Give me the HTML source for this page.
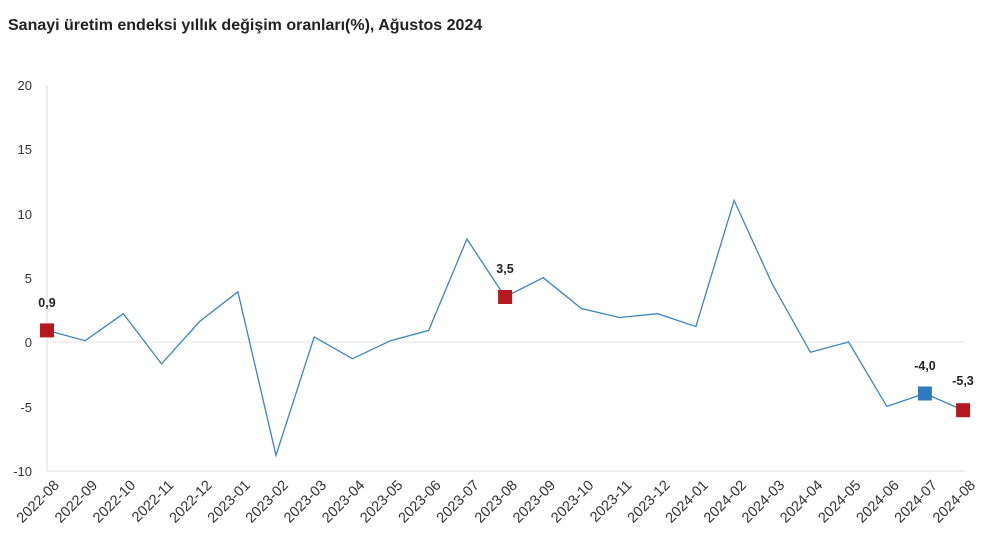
<!DOCTYPE html>
<html><head><meta charset="utf-8"><style>
body{margin:0;background:#fff;width:1002px;height:551px;overflow:hidden;font-family:"Liberation Sans",sans-serif}
</style></head><body>
<svg width="1002" height="551" xmlns="http://www.w3.org/2000/svg" font-family="Liberation Sans, sans-serif">
<text x="8" y="30" font-size="16" font-weight="bold" fill="#222">Sanayi üretim endeksi yıllık değişim oranları(%), Ağustos 2024</text>
<g font-size="13" fill="#333" text-anchor="end">
<text x="32" y="90">20</text><text x="32" y="154">15</text><text x="32" y="219">10</text>
<text x="32" y="283">5</text><text x="32" y="347">0</text><text x="32" y="412">-5</text><text x="32" y="476">-10</text>
</g>
<line x1="47" y1="85" x2="47" y2="471" stroke="#ddd"/>
<line x1="47" y1="471" x2="965" y2="471" stroke="#ddd"/>
<line x1="47" y1="342" x2="965" y2="342" stroke="#e6e6e6"/>
<polyline fill="none" stroke="#3a86c0" stroke-width="1.3" points="47,330.4 85.2,340.7 123.3,313.7 161.5,363.9 199.7,321.4 237.9,291.8 276,455.3 314.2,336.9 352.4,358.7 390.5,340.7 428.7,330.4 466.9,239.0 505.1,297.0 543.2,277.7 581.4,308.5 619.6,317.5 657.7,313.7 695.9,326.6 734.1,200.4 772.3,284.1 810.4,352.3 848.6,342 886.8,406.4 924.9,393.5 963.1,410.2"/>
<rect x="40" y="323.4" width="14" height="14" fill="#b5181f"/>
<rect x="498.1" y="290" width="14" height="14" fill="#b5181f"/>
<rect x="917.9" y="386.5" width="14" height="14" fill="#2d7bbd"/>
<rect x="956.1" y="403.2" width="14" height="14" fill="#b5181f"/>
<g font-size="12.5" font-weight="bold" fill="#222" text-anchor="middle">
<text x="47" y="307">0,9</text><text x="505" y="273">3,5</text><text x="925" y="370">-4,0</text><text x="963" y="385">-5,3</text>
</g>
<g font-size="14.5" fill="#333" text-anchor="end">
<text transform="translate(60,486) rotate(-45)">2022-08</text>
<text transform="translate(98.2,486) rotate(-45)">2022-09</text>
<text transform="translate(136.3,486) rotate(-45)">2022-10</text>
<text transform="translate(174.5,486) rotate(-45)">2022-11</text>
<text transform="translate(212.7,486) rotate(-45)">2022-12</text>
<text transform="translate(250.9,486) rotate(-45)">2023-01</text>
<text transform="translate(289,486) rotate(-45)">2023-02</text>
<text transform="translate(327.2,486) rotate(-45)">2023-03</text>
<text transform="translate(365.4,486) rotate(-45)">2023-04</text>
<text transform="translate(403.5,486) rotate(-45)">2023-05</text>
<text transform="translate(441.7,486) rotate(-45)">2023-06</text>
<text transform="translate(479.9,486) rotate(-45)">2023-07</text>
<text transform="translate(518.1,486) rotate(-45)">2023-08</text>
<text transform="translate(556.2,486) rotate(-45)">2023-09</text>
<text transform="translate(594.4,486) rotate(-45)">2023-10</text>
<text transform="translate(632.6,486) rotate(-45)">2023-11</text>
<text transform="translate(670.7,486) rotate(-45)">2023-12</text>
<text transform="translate(708.9,486) rotate(-45)">2024-01</text>
<text transform="translate(747.1,486) rotate(-45)">2024-02</text>
<text transform="translate(785.3,486) rotate(-45)">2024-03</text>
<text transform="translate(823.4,486) rotate(-45)">2024-04</text>
<text transform="translate(861.6,486) rotate(-45)">2024-05</text>
<text transform="translate(899.8,486) rotate(-45)">2024-06</text>
<text transform="translate(937.9,486) rotate(-45)">2024-07</text>
<text transform="translate(976.1,486) rotate(-45)">2024-08</text>
</g>
</svg>
</body></html>
